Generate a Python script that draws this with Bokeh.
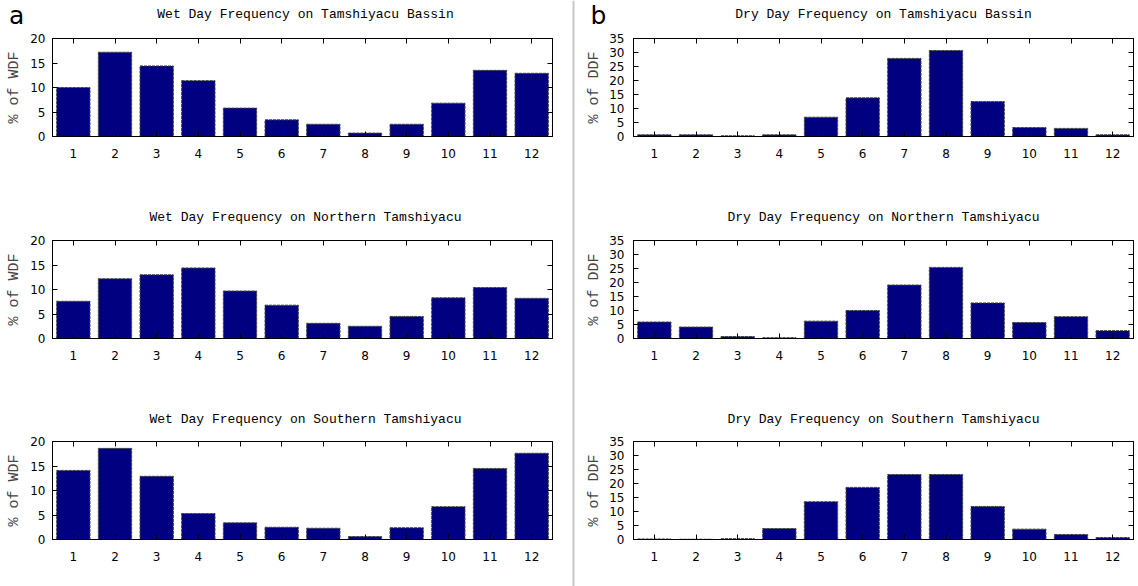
from bokeh.plotting import figure
from bokeh.models import Range1d, LinearAxis, FixedTicker, Span, ColumnDataSource
from bokeh.core.properties import value
from bokeh.layouts import row, column
from bokeh.embed import file_html
from bokeh.resources import INLINE

# ---------------- data ----------------
months = [1, 2, 3, 4, 5, 6, 7, 8, 9, 10, 11, 12]
month_labels = ["1", "2", "3", "4", "5", "6", "7", "8", "9", "10", "11", "12"]

wdf_ticks = [0, 5, 10, 15, 20]
ddf_ticks = [0, 5, 10, 15, 20, 25, 30, 35]

wdf_bassin = [10.0, 17.2, 14.4, 11.4, 5.8, 3.4, 2.5, 0.7, 2.5, 6.8, 13.5, 12.9]
wdf_north = [7.6, 12.2, 13.0, 14.4, 9.7, 6.8, 3.1, 2.5, 4.5, 8.3, 10.4, 8.2]
wdf_south = [14.1, 18.6, 12.9, 5.3, 3.4, 2.5, 2.3, 0.6, 2.4, 6.7, 14.5, 17.6]

ddf_bassin = [0.6, 0.6, 0.25, 0.6, 6.9, 13.8, 27.9, 30.7, 12.5, 3.2, 2.9, 0.6]
ddf_north = [5.9, 4.1, 0.7, 0.3, 6.2, 10.0, 19.1, 25.4, 12.7, 5.7, 7.8, 2.8]
ddf_south = [0.2, 0.1, 0.3, 3.9, 13.5, 18.6, 23.2, 23.2, 11.8, 3.7, 1.8, 0.7]

wdf_titles = ["Wet Day Frequency on Tamshiyacu Bassin",
              "Wet Day Frequency on Northern Tamshiyacu",
              "Wet Day Frequency on Southern Tamshiyacu"]
ddf_titles = ["Dry Day Frequency on Tamshiyacu Bassin",
              "Dry Day Frequency on Northern Tamshiyacu",
              "Dry Day Frequency on Southern Tamshiyacu"]
wdf_ylabel = "% of WDF"
ddf_ylabel = "% of DDF"
panel_letters = ["a", "b"]

BAR = "#000080"
MONO = "Liberation Mono"
SANS = "DejaVu Sans"


def style_axis(ax, labels=True):
    ax.axis_line_color = "black"
    ax.axis_line_width = 1
    ax.major_tick_in = 5
    ax.major_tick_out = 0
    ax.major_tick_line_color = "black"
    ax.minor_tick_line_color = None
    ax.major_label_text_font = SANS
    ax.major_label_text_color = "black"
    if not labels:
        ax.major_label_text_color = None
        ax.major_label_text_alpha = 0
        ax.major_label_text_font_size = "0px"
        ax.major_label_standoff = 0


def panel(values, ymax, yticks, ylabel, width, height, bl, br, bt, bb,
          ylab_standoff, yaxlab_standoff):
    p = figure(width=width, height=height, output_backend="svg", toolbar_location=None,
               title=None,
               x_range=Range1d(0.5, 12.5), y_range=Range1d(0, ymax),
               min_border_left=bl, min_border_right=br,
               min_border_top=bt, min_border_bottom=bb,
               background_fill_color="white", border_fill_color="white")
    p.outline_line_color = "black"
    p.grid.visible = False

    src = ColumnDataSource(dict(x=months, top=values))
    p.vbar(x="x", top="top", width=0.8, bottom=0, source=src,
           fill_color=BAR, line_color="#444444", line_width=1, line_dash="3 1")

    xa = p.xaxis[0]
    xa.ticker = FixedTicker(ticks=months)
    xa.major_label_overrides = {m: l for m, l in zip(months, month_labels)}
    style_axis(xa)
    xa.major_label_text_font_size = "12px"
    xa.major_label_standoff = 12

    ya = p.yaxis[0]
    ya.ticker = FixedTicker(ticks=yticks)
    style_axis(ya)
    ya.major_label_text_font_size = "12px"
    ya.major_label_standoff = ylab_standoff
    ya.axis_label = ylabel
    ya.axis_label_text_font = MONO
    ya.axis_label_text_font_size = "15px"
    ya.axis_label_text_font_style = "normal"
    ya.axis_label_standoff = yaxlab_standoff

    top_ax = LinearAxis(ticker=FixedTicker(ticks=months))
    style_axis(top_ax, labels=False)
    p.add_layout(top_ax, "above")
    right_ax = LinearAxis(ticker=FixedTicker(ticks=yticks))
    style_axis(right_ax, labels=False)
    p.add_layout(right_ax, "right")
    return p


def strip(width, height, title, title_x, title_y, letter=None, letter_x=None, letter_y=None):
    s = figure(width=width, height=height, output_backend="svg", toolbar_location=None,
               title=None, x_range=Range1d(0, width), y_range=Range1d(0, height),
               min_border_left=0, min_border_right=0, min_border_top=0, min_border_bottom=0,
               outline_line_color=None, border_fill_color="white", background_fill_color="white")
    s.frame_align = False
    s.axis.visible = False
    s.grid.visible = False
    s.text(x=[title_x], y=[title_y], text=[title], text_font=value(MONO),
           text_font_size=value("13px"), text_align="center", text_baseline="middle",
           text_color="black")
    if letter is not None:
        s.text(x=[letter_x], y=[letter_y], text=[letter], text_font=value(SANS),
               text_font_size=value("25px"), text_align="left", text_baseline="middle",
               text_color="black")
    return s


# vertical layout: strip heights, panel heights
strip_h = [30, 18, 18]
strip_title_y = [16, 11, 10]
panel_h = [180, 183, 157]
panel_top = [8, 12, 12]
panel_bottom = [74, 73, 47]

LW, RW = 568, 560
left_items = []
for i, (t, v) in enumerate(zip(wdf_titles, [wdf_bassin, wdf_north, wdf_south])):
    if i == 0:
        left_items.append(strip(LW, strip_h[i], t, 305, strip_title_y[i], panel_letters[0], 8.5, 15))
    else:
        left_items.append(strip(LW, strip_h[i], t, 305, strip_title_y[i]))
    left_items.append(panel(v, 20, wdf_ticks, wdf_ylabel, LW, panel_h[i], 52, 16, panel_top[i],
                            panel_bottom[i], 7, 4))

right_items = []
for i, (t, v) in enumerate(zip(ddf_titles, [ddf_bassin, ddf_north, ddf_south])):
    if i == 0:
        right_items.append(strip(RW, strip_h[i], t, 305, strip_title_y[i], panel_letters[1], 12, 15))
    else:
        right_items.append(strip(RW, strip_h[i], t, 305, strip_title_y[i]))
    right_items.append(panel(v, 35, ddf_ticks, ddf_ylabel, RW, panel_h[i], 55, 5, panel_top[i],
                             panel_bottom[i], 9, 3))

# separator
sep = figure(width=10, height=586, output_backend="svg", toolbar_location=None,
             title=None, x_range=Range1d(0, 1), y_range=Range1d(0, 586),
             min_border_left=0, min_border_right=0, min_border_top=0, min_border_bottom=0,
             outline_line_color=None, border_fill_color="white")
sep.frame_align = False
sep.axis.visible = False
sep.grid.visible = False
sep.add_layout(Span(location=0.5, dimension="height", line_color="#c8c8c8", line_width=2))

layout = row(column(*left_items), sep, column(*right_items))
open("out.html", "w").write(file_html(layout, INLINE))
